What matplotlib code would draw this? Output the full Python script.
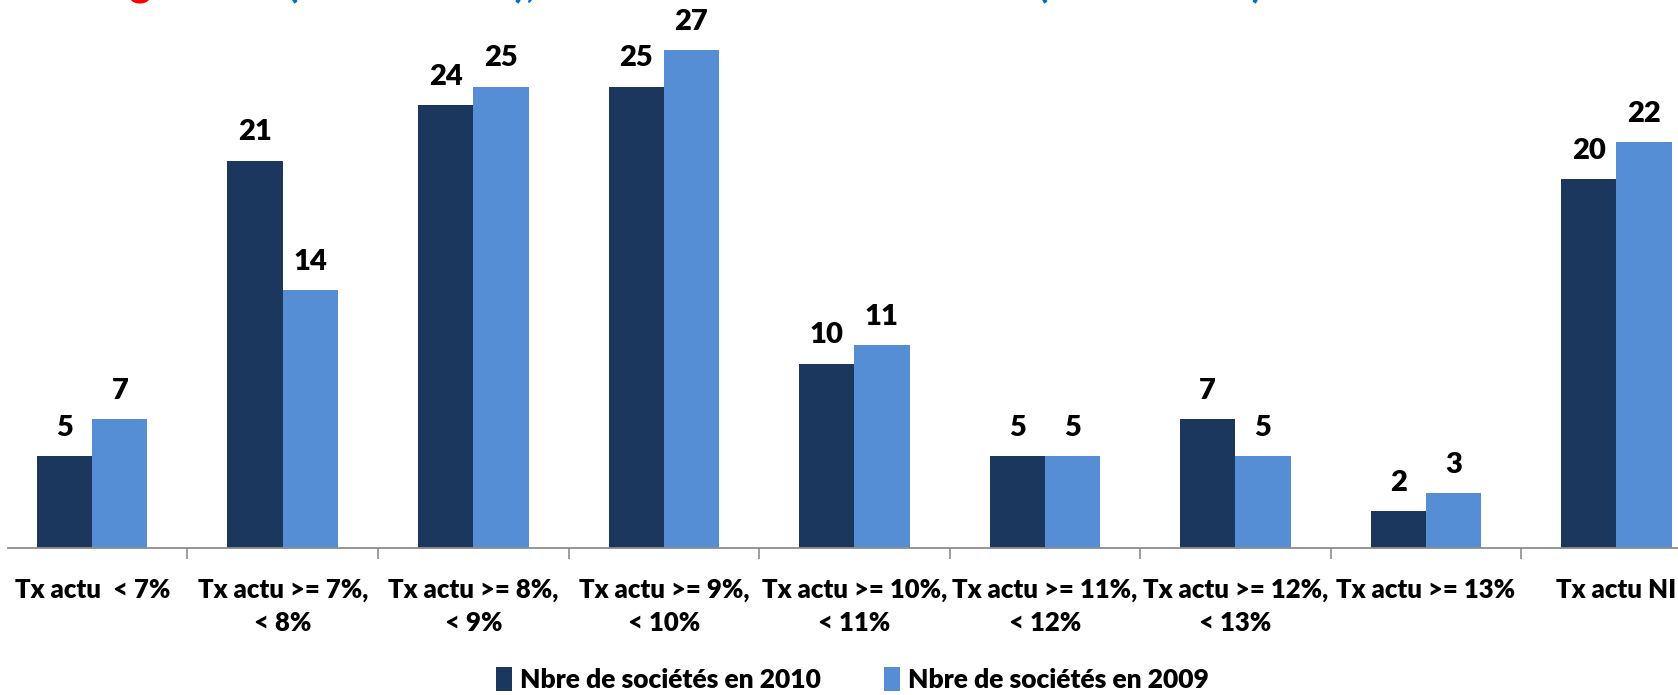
import matplotlib.pyplot as plt
import numpy as np

# data
categories = ["Tx actu  < 7%", "Tx actu >= 7%,\n< 8%", "Tx actu >= 8%,\n< 9%",
              "Tx actu >= 9%,\n< 10%", "Tx actu >= 10%,\n< 11%", "Tx actu >= 11%,\n< 12%",
              "Tx actu >= 12%,\n< 13%", "Tx actu >= 13%", "Tx actu NI"]
vals_2010 = [5, 21, 24, 25, 10, 5, 7, 2, 20]
vals_2009 = [7, 14, 25, 27, 11, 5, 5, 3, 22]
series_names = ["Nbre de sociétés en 2010", "Nbre de sociétés en 2009"]

DARK = "#1c375e"
LIGHT = "#558ed5"
RED = "#ff0000"
BLUE = "#0070c0"

plt.rcParams['font.family'] = ['Lato', 'DejaVu Sans']
plt.rcParams['font.weight'] = 'bold'

fig = plt.figure(figsize=(16.78, 6.95), dpi=100)
ax = fig.add_axes([0.005, 0.211, 0.995, 0.789])

x = np.arange(len(categories))
w = 0.29
b1 = ax.bar(x - w/2, vals_2010, w, color=DARK, label=series_names[0])
b2 = ax.bar(x + w/2, vals_2009, w, color=LIGHT, label=series_names[1])

for bars in (b1, b2):
	for r in bars:
		ax.annotate(str(int(r.get_height())), (r.get_x() + r.get_width()/2, r.get_height()),
			xytext=(0, 11), textcoords="offset points", ha="center", va="bottom",
			fontsize=21, fontweight="heavy")

ax.set_yticks([])
for s in ("top", "right", "left"):
	ax.spines[s].set_visible(False)
ax.spines["bottom"].set_color("#8c8c8c")
ax.spines["bottom"].set_linewidth(1.3)

ax.set_xticks(x)
ax.set_xticklabels(categories, fontsize=18.5, fontweight="heavy", linespacing=1.45, va="top")
ax.tick_params(axis="x", which="major", length=0, pad=21)
ax.set_xticks(np.arange(-0.5, 9, 1), minor=True)
ax.tick_params(axis="x", which="minor", length=8, color="#8c8c8c", width=1.2)
# limits after the ticks, or set_xticks widens them
ax.set_xlim(-0.44, 8.323)
ax.set_ylim(0, 29.7)

fig.legend(loc="lower center", bbox_to_anchor=(0.508, -0.03), ncol=2, frameon=False,
	prop={"size": 19, "weight": "heavy"}, handlelength=0.6, handleheight=1.0,
	handletextpad=0.3, columnspacing=2.4)

# title cut off at the top of the picture
title_parts = [("augmenté", RED, 270, "right"), ("(hausse : 3%),", BLUE, 287, "left"),
	("et", BLUE, 605, "left"), ("25 ont diminué", RED, 658, "left"),
	("(baisse : 5%).", BLUE, 1037, "left")]
for txt, col, px, ha in title_parts:
	fig.text(px / 1678, 1.006, txt, color=col, fontsize=30, fontweight="bold",
		ha=ha, va="baseline")

fig.savefig("out.png", dpi=100)
